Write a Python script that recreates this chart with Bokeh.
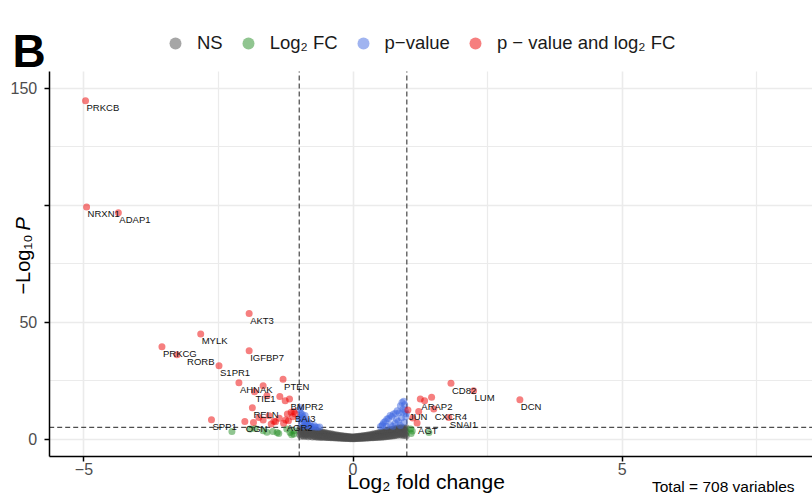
import math
from bokeh.plotting import figure
from bokeh.models import (ColumnDataSource, Label, Legend, LegendItem,
                          FixedTicker, Range1d)
from bokeh.core.properties import value
from bokeh.embed import file_html
from bokeh.resources import INLINE

# ---------------- data ----------------
# NS (grey) : |log2FC| < 1 and -log10 p < 5
ns_fc = [-0.99, -0.97, -0.95, -0.93, -0.91, -0.89, -0.87, -0.85, -0.83, -0.81,
         -0.79, -0.77, -0.75, -0.73, -0.71, -0.69, -0.67, -0.65, -0.63, -0.61,
         -0.59, -0.57, -0.55, -0.53, -0.51, -0.49, -0.47, -0.45, -0.43, -0.41,
         -0.39, -0.37, -0.35, -0.33, -0.31, -0.29, -0.27, -0.25, -0.23, -0.21,
         -0.19, -0.17, -0.15, -0.13, -0.11, -0.09, -0.07, -0.05, -0.03, -0.01,
         0.01, 0.03, 0.05, 0.07, 0.09, 0.11, 0.13, 0.15, 0.17, 0.19,
         0.21, 0.23, 0.25, 0.27, 0.29, 0.31, 0.33, 0.35, 0.37, 0.39,
         0.41, 0.43, 0.45, 0.47, 0.49, 0.51, 0.53, 0.55, 0.57, 0.59,
         0.61, 0.63, 0.65, 0.67, 0.69, 0.71, 0.73, 0.75, 0.77, 0.79,
         0.81, 0.83, 0.85, 0.87, 0.89, 0.91, 0.93, 0.95, 0.97, 0.99]
ns_logp_hi = [4.6, 4.1, 4.8, 4.3, 4.7, 3.9, 4.5, 4.2, 3.8, 4.4,
              3.6, 4.1, 3.5, 3.9, 3.3, 3.7, 3.1, 3.4, 2.9, 3.2,
              2.7, 3.0, 2.5, 2.8, 2.3, 2.6, 2.1, 2.4, 1.9, 2.2,
              1.8, 2.0, 1.6, 1.8, 1.5, 1.7, 1.4, 1.5, 1.3, 1.4,
              1.2, 1.3, 1.1, 1.2, 1.0, 1.1, 0.9, 1.0, 0.9, 0.8,
              0.9, 1.0, 0.9, 1.1, 1.0, 1.2, 1.1, 1.3, 1.2, 1.4,
              1.3, 1.5, 1.4, 1.7, 1.5, 1.8, 1.6, 2.0, 1.8, 2.2,
              2.0, 2.4, 2.2, 2.7, 2.4, 2.9, 2.6, 3.1, 2.8, 3.4,
              3.0, 3.6, 3.3, 3.9, 3.5, 4.1, 3.8, 4.3, 4.0, 4.5,
              4.2, 4.7, 4.4, 4.8, 4.6, 4.9, 4.3, 4.7, 4.5, 4.8]
ns_logp_mid = [3.3, 2.6, 3.7, 3.0, 2.4, 3.1, 2.0, 3.4, 2.2, 2.9,
               2.5, 3.2, 2.1, 2.8, 2.3, 1.8, 2.6, 2.0, 1.6, 2.3,
               1.5, 2.0, 1.7, 1.3, 1.8, 1.4, 1.6, 1.2, 1.5, 1.1,
               1.3, 1.0, 1.2, 0.9, 1.1, 0.8, 1.0, 0.7, 0.9, 0.6,
               0.8, 0.6, 0.7, 0.5, 0.7, 0.5, 0.6, 0.4, 0.6, 0.4,
               0.5, 0.6, 0.4, 0.7, 0.5, 0.8, 0.6, 0.7, 0.9, 0.6,
               0.9, 0.8, 1.0, 0.9, 1.1, 1.0, 1.2, 1.1, 1.4, 1.2,
               1.5, 1.3, 1.7, 1.4, 1.9, 1.6, 2.1, 1.8, 2.3, 2.0,
               2.5, 2.2, 2.7, 2.4, 2.9, 2.6, 3.1, 2.8, 3.3, 3.0,
               3.5, 3.2, 3.7, 3.4, 2.6, 3.6, 3.0, 2.4, 3.3, 2.8]
ns_logp_lo = [1.9, 1.2, 2.2, 1.5, 1.1, 1.7, 1.3, 2.6, 1.0, 1.6,
              1.2, 1.9, 0.9, 1.4, 1.1, 0.9, 1.3, 0.8, 1.1, 0.8,
              0.9, 0.7, 1.0, 0.7, 0.9, 0.6, 0.8, 0.6, 0.7, 0.5,
              0.7, 0.5, 0.6, 0.4, 0.6, 0.4, 0.5, 0.3, 0.5, 0.3,
              0.4, 0.2, 0.4, 0.2, 0.3, 0.2, 0.3, 0.1, 0.2, 0.1,
              0.2, 0.1, 0.2, 0.3, 0.2, 0.3, 0.2, 0.4, 0.3, 0.4,
              0.3, 0.5, 0.4, 0.5, 0.4, 0.6, 0.5, 0.6, 0.5, 0.7,
              0.6, 0.8, 0.7, 0.9, 0.8, 1.0, 0.8, 1.1, 0.9, 1.2,
              1.0, 1.3, 1.1, 1.4, 1.2, 1.5, 1.3, 1.6, 1.4, 1.8,
              1.5, 1.9, 2.3, 1.7, 2.0, 1.6, 2.2, 1.5, 1.9, 1.4]

# Log2 FC only (green)
fc_fc = [-2.25, -1.91, -1.82, -1.67, -1.60, -1.49, -1.41, -1.38, -1.23, -1.17,
         -1.10, -1.10, -1.14, 1.07, 1.08, 1.41, 1.10]
fc_logp = [3.2, 4.3, 4.5, 3.5, 2.9, 3.2, 2.8, 2.4, 4.3, 2.8,
           3.5, 2.1, 1.8, 4.3, 2.4, 2.8, 3.4]

# p-value only (blue)
pv_fc = [-0.99, -0.97, -0.95, -0.98, -0.93, -0.90, -0.96, -0.88, -0.85, -0.82,
         -0.92, -0.78, -0.75, -0.70, -0.66, -0.86, -0.94, -0.99, -0.97, -0.91,
         -0.80, -0.72, -0.89, -0.84, -0.62,
         0.94, 0.91, 0.96, 0.88, 0.97, 0.93, 0.82, 0.86, 0.79, 0.75,
         0.72, 0.69, 0.66, 0.63, 0.60, 0.57, 0.55, 0.54, 0.51, 0.98,
         0.90, 0.84, 0.78, 0.70, 0.95, 0.99, 0.62, 0.88, 0.74, 0.92, 0.81]
pv_logp = [12.5, 11.0, 9.8, 8.6, 8.0, 7.2, 6.5, 6.3, 5.9, 5.6,
           5.4, 5.3, 5.2, 5.1, 5.05, 7.0, 10.5, 9.2, 13.5, 8.9,
           6.4, 5.8, 10.0, 7.6, 5.1,
           16.1, 15.6, 14.6, 14.2, 12.1, 12.8, 12.1, 11.2, 11.0, 10.7,
           9.6, 10.0, 8.8, 8.5, 7.6, 7.1, 6.2, 5.7, 5.3, 9.5,
           9.0, 7.5, 6.8, 6.0, 7.2, 10.8, 5.5, 5.8, 5.4, 11.5, 8.3]

# p-value and log2 FC (red)
sig_gene = ["PRKCB", "NRXN1", "ADAP1", "AKT3", "MYLK", "PRKCG", "RORB", "IGFBP7",
            "S1PR1", "AHNAK", "PTEN", "TIE1", "BMPR2", "RELN", "BAI3", "SPP1",
            "OGN", "AGR2",
            "", "", "", "", "", "", "", "", "", "", "", "", "", "", "", "", "", "",
            "CD82", "LUM", "DCN", "ARAP2", "JUN", "CXCR4", "SNAI1", "AGT",
            "", "", "", ""]
sig_fc = [-4.97, -4.95, -4.36, -1.93, -2.83, -3.55, -3.27, -1.93, -2.49, -2.12,
          -1.30, -1.83, -1.18, -1.87, -1.10, -2.63, -2.01, -1.25,
          -1.67, -1.36, -1.26, -1.60, -1.15, -1.22, -1.75, -1.67, -1.44, -1.47,
          -1.52, -1.29, -1.20, -1.85, -1.56, -1.08, -1.12, -1.37,
          1.82, 2.24, 3.10, 1.25, 1.02, 1.50, 1.78, 1.19,
          1.33, 1.46, 1.22, 1.11]
sig_logp = [144.6, 99.2, 96.7, 53.7, 44.9, 39.4, 36.0, 37.7, 31.3, 24.1,
            25.5, 20.2, 17.1, 13.4, 11.8, 8.2, 7.5, 8.1,
            22.8, 18.2, 16.4, 18.5, 11.4, 10.7, 9.2, 8.1, 7.4, 7.6,
            6.4, 6.7, 7.8, 7.1, 9.9, 10.8, 9.5, 8.9,
            23.8, 20.6, 16.8, 17.1, 12.4, 12.8, 9.2, 6.8,
            16.4, 17.8, 11.8, 9.0]

fc_cutoff = 1.0
p_cutoff_log = 5.0
x_ticks = [-5, 0, 5]
x_minor = [-2.5, 2.5, 7.5]
y_ticks = [0, 50, 100, 150]
y_minor = [25, 75, 125]
legend_labels = ["NS", "Log\u2082 FC", "p\u2212value", "p \u2212 value and log\u2082 FC"]
total_text = "Total = 708 variables"

# ---------------- layout / style ----------------
FONT = "Liberation Sans"
W, H = 812, 494
# panel (plot area) in data units and its pixel box inside the canvas
PX0, PX1 = -5.645, 8.537          # x extent of the panel
PY0, PY1 = -7.48, 157.1           # y extent of the panel
PL, PR, PT, PB = 48.7, 812.0, 71.0, 456.0
KX = (PR - PL) / (PX1 - PX0)      # px per x unit
KY = (PB - PT) / (PY1 - PY0)      # px per y unit
XR = (PX0 - PL / KX, PX1 + (W - PR) / KX)
YR = (PY0 - (H - PB) / KY, PY1 + PT / KY)


def X(px):
    return XR[0] + px / KX


def Y(py):
    return YR[0] + (H - py) / KY


p = figure(width=W, height=H, x_range=Range1d(*XR), y_range=Range1d(*YR),
           output_backend="svg", toolbar_location=None,
           min_border_left=0, min_border_right=0,
           min_border_top=0, min_border_bottom=0)
p.outline_line_color = None
p.background_fill_color = "white"
p.border_fill_color = "white"

# axes fixed at the panel's edges
p.xaxis.fixed_location = PY0
p.yaxis.fixed_location = PX0
p.xaxis.bounds = (PX0, PX1)
p.yaxis.bounds = (PY0, PY1)
p.xaxis.ticker = FixedTicker(ticks=x_ticks, minor_ticks=x_minor)
p.yaxis.ticker = FixedTicker(ticks=y_ticks, minor_ticks=y_minor)
p.yaxis.major_label_overrides = {100: ""}
for ax in (p.xaxis, p.yaxis):
    ax.axis_line_color = "black"
    ax.axis_line_width = 1.5
    ax.major_tick_line_color = "black"
    ax.major_tick_line_width = 1.5
    ax.major_tick_in = 0
    ax.major_tick_out = 5
    ax.minor_tick_line_color = None
    ax.major_label_text_font = FONT
    ax.major_label_text_font_size = "16px"
    ax.major_label_text_color = "#4d4d4d"
p.xaxis.major_label_standoff = 1
p.yaxis.major_label_standoff = 7

for g in (p.xgrid, p.ygrid):
    g.grid_line_color = "#ebebeb"
    g.grid_line_width = 1.6
    g.minor_grid_line_color = "#ebebeb"
    g.minor_grid_line_width = 1.2
p.xgrid.cross_bounds = (PY0, PY1)
p.ygrid.cross_bounds = (PX0, PX1)

# threshold lines
p.segment(x0=[PX0, -fc_cutoff, fc_cutoff], y0=[p_cutoff_log, PY0, PY0],
          x1=[PX1, -fc_cutoff, fc_cutoff], y1=[p_cutoff_log, PY1, PY1],
          line_color="#222222", line_width=1, line_dash="5 3")

# points
ns_src = ColumnDataSource(dict(x=ns_fc * 3, y=ns_logp_hi + ns_logp_mid + ns_logp_lo))
fc_src = ColumnDataSource(dict(x=fc_fc, y=fc_logp))
pv_src = ColumnDataSource(dict(x=pv_fc, y=pv_logp))
sig_src = ColumnDataSource(dict(x=sig_fc, y=sig_logp))

SZ = 7
r_ns = p.scatter("x", "y", source=ns_src, size=SZ, fill_color="#4D4D4D",
                 line_color=None, fill_alpha=0.5)
r_pv = p.scatter("x", "y", source=pv_src, size=SZ, fill_color="#4169E1",
                 line_color=None, fill_alpha=0.5)
r_fc = p.scatter("x", "y", source=fc_src, size=SZ, fill_color="#228B22",
                 line_color=None, fill_alpha=0.5)
r_sig = p.scatter("x", "y", source=sig_src, size=SZ, fill_color="#EE0000",
                  line_color=None, fill_alpha=0.5)

# gene labels
special = {"RORB": (10, 7)}
lx, ly, lt, ldx, ldy = [], [], [], [], []
for g, xv, yv in zip(sig_gene, sig_fc, sig_logp):
    if g:
        dx, dy = special.get(g, (1, 7))
        lx.append(xv); ly.append(yv); lt.append(g); ldx.append(dx); ldy.append(dy)
lab_src = ColumnDataSource(dict(x=lx, y=ly, t=lt, dx=ldx, dy=ldy))
p.text(x="x", y="y", text="t", source=lab_src, x_offset="dx", y_offset="dy",
       text_font=value(FONT), text_font_size="9.5px", text_align="left",
       text_baseline="middle", text_color="#111111")

# legend (frame == whole canvas, so location is in canvas px from bottom-left)
legend = Legend(items=[LegendItem(label=legend_labels[0], renderers=[r_ns]),
                       LegendItem(label=legend_labels[1], renderers=[r_fc]),
                       LegendItem(label=legend_labels[2], renderers=[r_pv]),
                       LegendItem(label=legend_labels[3], renderers=[r_sig])],
                orientation="horizontal", location=(160, H - 58),
                glyph_width=30, glyph_height=30, label_standoff=7, spacing=10,
                padding=0, margin=0, border_line_color=None,
                background_fill_alpha=0, label_text_font=FONT,
                label_text_font_size="18.5px", label_text_color="#1a1a1a",
                label_height=30)
p.add_layout(legend)

# texts
p.add_layout(Label(x=X(425.5), y=Y(481), text="Log\u2082 fold change", text_font=FONT,
                   text_font_size="21px", text_align="center", text_baseline="middle",
                   text_color="black"))
p.add_layout(Label(x=X(22), y=Y(234), text="\u2212Log\u2081\u2080", text_font=FONT,
                   text_font_size="20px", text_align="right", text_baseline="middle",
                   angle=math.pi / 2, text_color="black"))
p.add_layout(Label(x=X(22), y=Y(230), text="P", text_font=FONT, text_font_style="italic",
                   text_font_size="20px", text_align="left", text_baseline="middle",
                   angle=math.pi / 2, text_color="black"))
p.add_layout(Label(x=X(651.5), y=Y(486), text=total_text, text_font=FONT,
                   text_font_size="15.5px", text_align="left", text_baseline="alphabetic",
                   text_color="black"))
p.add_layout(Label(x=X(12), y=Y(50), text="B", text_font=FONT, text_font_style="bold",
                   text_font_size="46px", text_align="left", text_baseline="alphabetic",
                   text_color="black"))
p.add_layout(Label(x=X(12), y=Y(518), text="D", text_font=FONT, text_font_style="bold",
                   text_font_size="46px", text_align="left", text_baseline="alphabetic",
                   text_color="black"))

open("out.html", "w").write(file_html(p, INLINE))
